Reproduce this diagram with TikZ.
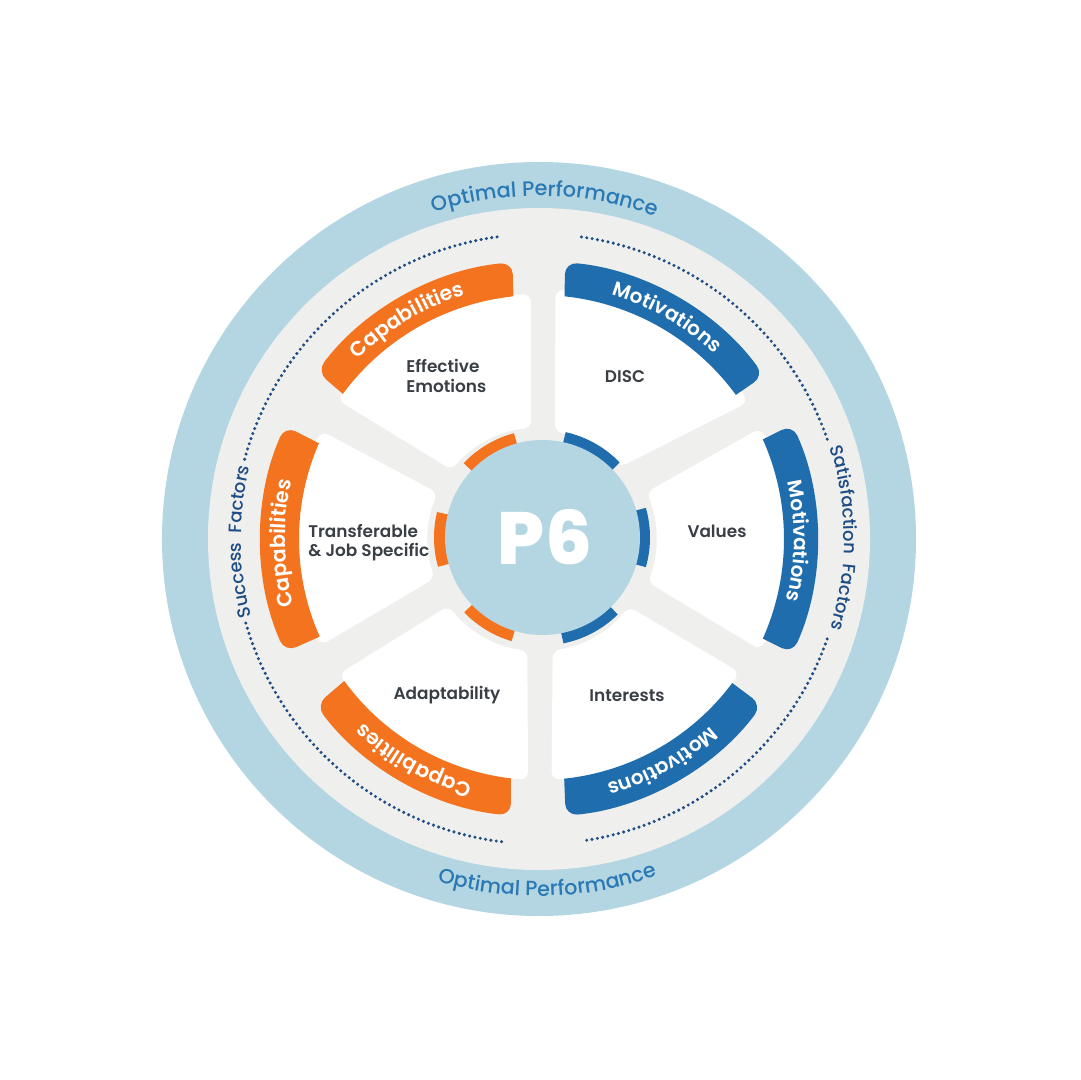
\documentclass[tikz,border=0pt]{standalone}
\usepackage{fontspec}
\usetikzlibrary{decorations.text}
\setmainfont{Poppins}
\newfontfamily\pmed{Poppins Medium}
\newfontfamily\psemi{Poppins SemiBold}
\newfontfamily\pxbold{Poppins ExtraBold}
\definecolor{ringblue}{HTML}{B3D6E2}
\definecolor{wheelgrey}{HTML}{EFEFED}
\definecolor{motblue}{HTML}{1F6DAD}
\definecolor{capor}{HTML}{F4731F}
\definecolor{navy}{HTML}{1E4C85}
\definecolor{optblue}{HTML}{2A78B4}
\definecolor{labeldark}{HTML}{3A3F45}
\tikzset{
  sectorshape/.style={fill=white,rounded corners=4pt},
  smallarc/.style={line width=7pt},
  dottedarc/.style={draw=navy,line width=1.7pt,line cap=round,dash pattern=on 0pt off 2.7pt},
  cellabel/.style={font=\psemi\fontsize{8.45}{9.7}\selectfont,text=labeldark,align=left,inner sep=0pt},
}
\newcommand{\wsector}[6]{%
  \path[sectorshape] (#1:#3) arc[start angle=#1,end angle=#2,radius=#3] -- (#5:#4) arc[start angle=#5,end angle=#6,radius=#4] -- cycle;}
% colour, inner angles, outer angles, inner radius
\newcommand{\wband}[6]{%
  \fill[#1] (#2:#6) arc[start angle=#2,end angle=#3,radius=#6] [rounded corners=6pt] -- (#5:278) arc[start angle=#5,end angle=#4,radius=278] [sharp corners] -- cycle;}
\newcommand{\wcurved}[5]{%
  \path[decorate,decoration={text along path,text align=center,text={|#1|#2}}] (#3:#5) arc[start angle=#3,end angle=#4,radius=#5];}
\newcommand{\hubarc}[3]{%
  \draw[smallarc,#1] ([shift={(3,1.5)}]#2:101) arc[start angle=#2,end angle=#3,radius=101];}
\begin{document}
\begin{tikzpicture}[x=0.5pt,y=0.5pt]
\useasboundingbox (-539,-541) rectangle (541,539);
\fill[white] (-539,-541) rectangle (541,539);
\fill[ringblue] (0,0) circle[radius=377];
\fill[wheelgrey] (0,0) circle[radius=331];
% white sectors
\wsector{91.9}{145.4}{245}{111}{141.6}{94}
\wsector{33.2}{86.2}{250}{108}{81.6}{41.6}
\wsector{-26.6}{26.6}{248}{117}{23.5}{-21.7}
\wsector{153.6}{206}{243}{111}{200.6}{155.5}
\wsector{214}{267.4}{241}{112}{264}{216.5}
\wsector{273}{326.4}{241}{112}{323}{277}
% bands
\wband{capor}{143.5}{96}{143}{95.5}{244}
\wband{motblue}{84}{36.2}{84.6}{36}{244}
\wband{capor}{204}{156.5}{204}{156}{240}
\wband{motblue}{24}{-24}{24.3}{-24.3}{245}
\wband{capor}{263.3}{216.1}{264.2}{216.7}{241}
\wband{motblue}{323.3}{276}{323.3}{275.5}{241}
% small arcs
\hubarc{capor}{105}{136.5}
\hubarc{motblue}{77.4}{43.9}
\hubarc{capor}{166.3}{195.8}
\hubarc{motblue}{16}{-16}
\hubarc{capor}{223.9}{253.7}
\hubarc{motblue}{-78.6}{-45.4}
% hub
\node[circle,fill=ringblue,minimum size=97.5pt,inner sep=0pt] (hub) at (3.5,1.5) {};
\node[font=\pxbold\fontsize{37}{37}\selectfont,text=white,inner sep=0pt] (p6) at (6,2) {P6};
% dotted arcs
\draw[dottedarc] (97.9:305) arc[start angle=97.9,end angle=165,radius=305];
\draw[dottedarc] (82:305) arc[start angle=82,end angle=19,radius=305];
\draw[dottedarc] (196:305) arc[start angle=196,end angle=263,radius=305];
\draw[dottedarc] (279:305) arc[start angle=279,end angle=341.5,radius=305];
% band labels
\wcurved{\psemi\fontsize{10.3}{11}\selectfont\color{white}}{Capabilities}{171}{71}{255}
\wcurved{\psemi\fontsize{10}{11}\selectfont\color{white}}{Motivations}{110}{10}{255}
\wcurved{\psemi\fontsize{10.3}{11}\selectfont\color{white}}{Capabilities}{231}{131}{254}
\wcurved{\psemi\fontsize{10}{11}\selectfont\color{white}}{Motivations}{49.5}{-50.5}{255}
\wcurved{\psemi\fontsize{10.3}{11}\selectfont\color{white}}{Capabilities}{290.5}{190.5}{254}
\wcurved{\psemi\fontsize{10}{11}\selectfont\color{white}}{Motivations}{-11}{-111}{254}
% ring labels
\wcurved{\pmed\fontsize{10.4}{10.5}\selectfont\color{optblue}}{Optimal Performance}{134}{44}{343}
\wcurved{\pmed\fontsize{10.3}{10.5}\selectfont\color{optblue}}{Optimal Performance}{226.4}{316.4}{357}
\wcurved{\pmed\fontsize{9}{9}\selectfont\color{navy}}{Success {\ }Factors}{215.5}{145.5}{298}
\wcurved{\pmed\fontsize{9}{9}\selectfont\color{navy}}{Satisfaction {\ }Factors}{40.2}{-39.8}{305}
% cell labels
\node[cellabel,anchor=west] (effective) at (-133,163) {Effective\\Emotions};
\node[cellabel] (disc) at (86,162.5) {DISC};
\node[cellabel] (values) at (178,8) {Values};
\node[cellabel,anchor=west] (transfer) at (-231,-3.5) {Transferable\\\& Job Specific};
\node[cellabel] (adapt) at (-92,-156.5) {Adaptability};
\node[cellabel] (interests) at (88,-156.5) {Interests};
\end{tikzpicture}
\end{document}
